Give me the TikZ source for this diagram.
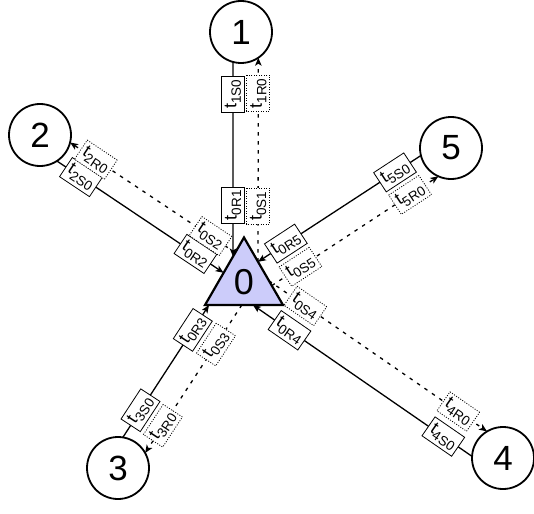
\documentclass[tikz,border=0pt]{standalone}
\usepackage{fontspec}
\setmainfont{Liberation Sans}
\usetikzlibrary{shapes.geometric,arrows.meta}
\definecolor{trifill}{RGB}{204,204,250}
\newcommand{\tlab}[1]{{\fontsize{18}{18}\selectfont t}\raisebox{-4.5pt}{\fontsize{13.5}{13.5}\selectfont #1}}
\tikzset{
  circ/.style={circle,draw,line width=1.8pt,fill=white,minimum size=62pt,inner sep=0pt,outer sep=0pt,font=\fontsize{35}{35}\selectfont},
  tri/.style={regular polygon,regular polygon sides=3,draw,line width=2.2pt,fill=trifill,minimum size=90pt,inner sep=0pt,outer sep=0pt,font=\fontsize{36}{36}\selectfont},
  sline/.style={draw,line width=1.3pt,-{Stealth[length=8pt,width=6.5pt,inset=2pt]}},
  dline/.style={sline,dash pattern=on 3.5pt off 5.5pt},
  sbox/.style={draw,line width=0.8pt,fill=white,minimum width=36pt,minimum height=23pt,inner sep=0pt},
  dbox/.style={sbox,dash pattern=on 1pt off 1.5pt}
}
\begin{document}
\begin{tikzpicture}[x=1pt,y=-1pt]
\useasboundingbox (0,0) rectangle (534,513);
% nodes
\node[tri] (n0) at (244,282.5) {0};
\node[circ] (n1) at (241,32) {1};
\node[circ] (n2) at (40,135) {2};
\node[circ] (n3) at (118,468) {3};
\node[circ] (n4) at (503,458) {4};
\node[circ] (n5) at (451,148) {5};
% end points on the triangle
\coordinate (e1s) at (233,256.5);
\coordinate (e1d) at (258,261.7);
\coordinate (e2s) at (223.6,272.8);
\coordinate (e2d) at (235.3,252.6);
\coordinate (e5s) at (258,261.8);
\coordinate (e5d) at (271.8,285.6);
\coordinate (e4s) at (252.9,305);
\coordinate (e4d) at (269.0,280.8);
\coordinate (e3s) at (209,305);
\coordinate (e3d) at (241.8,305);
% link 1
\draw[sline] (n1.-105) -- node[sbox,pos=0.167,rotate=90]{\tlab{1S0}} node[sbox,pos=0.737,rotate=90]{\tlab{0R1}} (e1s);
\draw[dline] (e1d) -- node[dbox,pos=0.271,rotate=90]{\tlab{0S1}} node[dbox,pos=0.825,rotate=90]{\tlab{1R0}} (n1.-56.7);
% link 2
\draw[sline] (n2.-57.9) -- node[sbox,pos=0.144,rotate=-33.7]{\tlab{2S0}} node[sbox,pos=0.831,rotate=-33.7]{\tlab{0R2}} (e2s);
\draw[dline] (e2d) -- node[dbox,pos=0.150,rotate=-33.7]{\tlab{0S2}} node[dbox,pos=0.844,rotate=-33.7]{\tlab{2R0}} (n2.-14);
% link 5
\draw[sline] (n5.-166.9) -- node[sbox,pos=0.159,rotate=33.2]{\tlab{5S0}} node[sbox,pos=0.829,rotate=33.2]{\tlab{0R5}} (e5s);
\draw[dline] (e5d) -- node[dbox,pos=0.172,rotate=33.2]{\tlab{0S5}} node[dbox,pos=0.830,rotate=33.2]{\tlab{5R0}} (n5.-114);
% link 4
\draw[sline] (n4.177) -- node[sbox,pos=0.131,rotate=-34.6]{\tlab{4S0}} node[sbox,pos=0.833,rotate=-34.6]{\tlab{0R4}} (e4s);
\draw[dline] (e4d) -- node[dbox,pos=0.167,rotate=-34.6]{\tlab{0S4}} node[dbox,pos=0.868,rotate=-34.6]{\tlab{4R0}} (n4.121);
% link 3
\draw[sline] (n3.81.6) -- node[sbox,pos=0.205,rotate=56.8]{\tlab{3S0}} node[sbox,pos=0.812,rotate=56.8]{\tlab{0R3}} (e3s);
\draw[dline] (e3d) -- node[dbox,pos=0.267,rotate=56.8]{\tlab{0S3}} node[dbox,pos=0.816,rotate=56.8]{\tlab{3R0}} (n3.29.1);
\end{tikzpicture}
\end{document}
